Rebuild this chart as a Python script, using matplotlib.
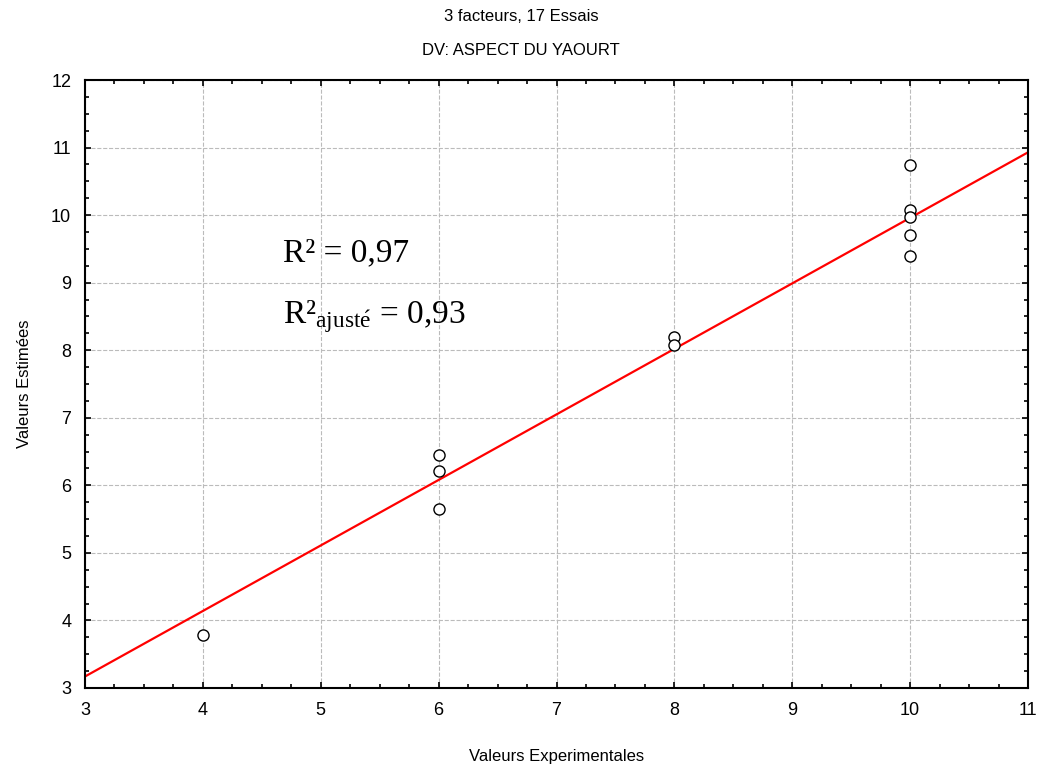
import matplotlib.pyplot as plt
from matplotlib.ticker import MultipleLocator

plt.rcParams['font.family'] = ['Liberation Sans', 'DejaVu Sans']
plt.rcParams['mathtext.fontset'] = 'custom'
plt.rcParams['mathtext.rm'] = 'Liberation Serif'
plt.rcParams['mathtext.it'] = 'Liberation Serif:italic'

# observed vs predicted values
x_exp = [4, 6, 6, 6, 8, 8, 10, 10, 10, 10, 10]
y_est = [3.78, 6.45, 6.21, 5.65, 8.20, 8.08, 10.74, 10.07, 9.97, 9.70, 9.40]

# fitted line end points
line_x = [3, 11]
line_y = [3.17, 10.93]

title_lines = ["3 facteurs, 17 Essais", "DV: ASPECT DU YAOURT"]

fig = plt.figure(figsize=(10.42, 7.71), dpi=100)
ax = fig.add_axes([0.0816, 0.1077, 0.905, 0.7885])

ax.plot(line_x, line_y, color='red', linewidth=1.6, zorder=2)
ax.plot(x_exp, y_est, linestyle='none', marker='o', markersize=8,
        markerfacecolor='white', markeredgecolor='black', markeredgewidth=1.0, zorder=3)

ax.set_xlim(3, 11)
ax.set_ylim(3, 12)
ax.xaxis.set_major_locator(MultipleLocator(1))
ax.yaxis.set_major_locator(MultipleLocator(1))
ax.xaxis.set_minor_locator(MultipleLocator(0.25))
ax.yaxis.set_minor_locator(MultipleLocator(0.25))
ax.tick_params(which='both', direction='in', top=True, right=True, width=1.2)
ax.tick_params(which='major', length=4, labelsize=13, pad=10)
ax.tick_params(which='minor', length=3)
ax.grid(True, which='major', linestyle='--', color='#bbbbbb', linewidth=0.8)
ax.set_axisbelow(True)
for sp in ax.spines.values():
    sp.set_linewidth(1.5)

ax.set_xlabel("Valeurs Experimentales", fontsize=12, labelpad=22)
ax.set_ylabel("Valeurs Estimées", fontsize=12, labelpad=14)

fig.text(0.5, 0.978, title_lines[0], ha='center', va='center', fontsize=12)
fig.text(0.5, 0.935, title_lines[1], ha='center', va='center', fontsize=12)

ax.text(4.68, 9.32, "R² = 0,97", fontsize=24, family='Liberation Serif')
ax.text(4.68, 8.4, r"R²$_{\mathrm{ajust\acute{e}}}$ = 0,93", fontsize=24, family='Liberation Serif')

fig.savefig("out.png", dpi=100)
